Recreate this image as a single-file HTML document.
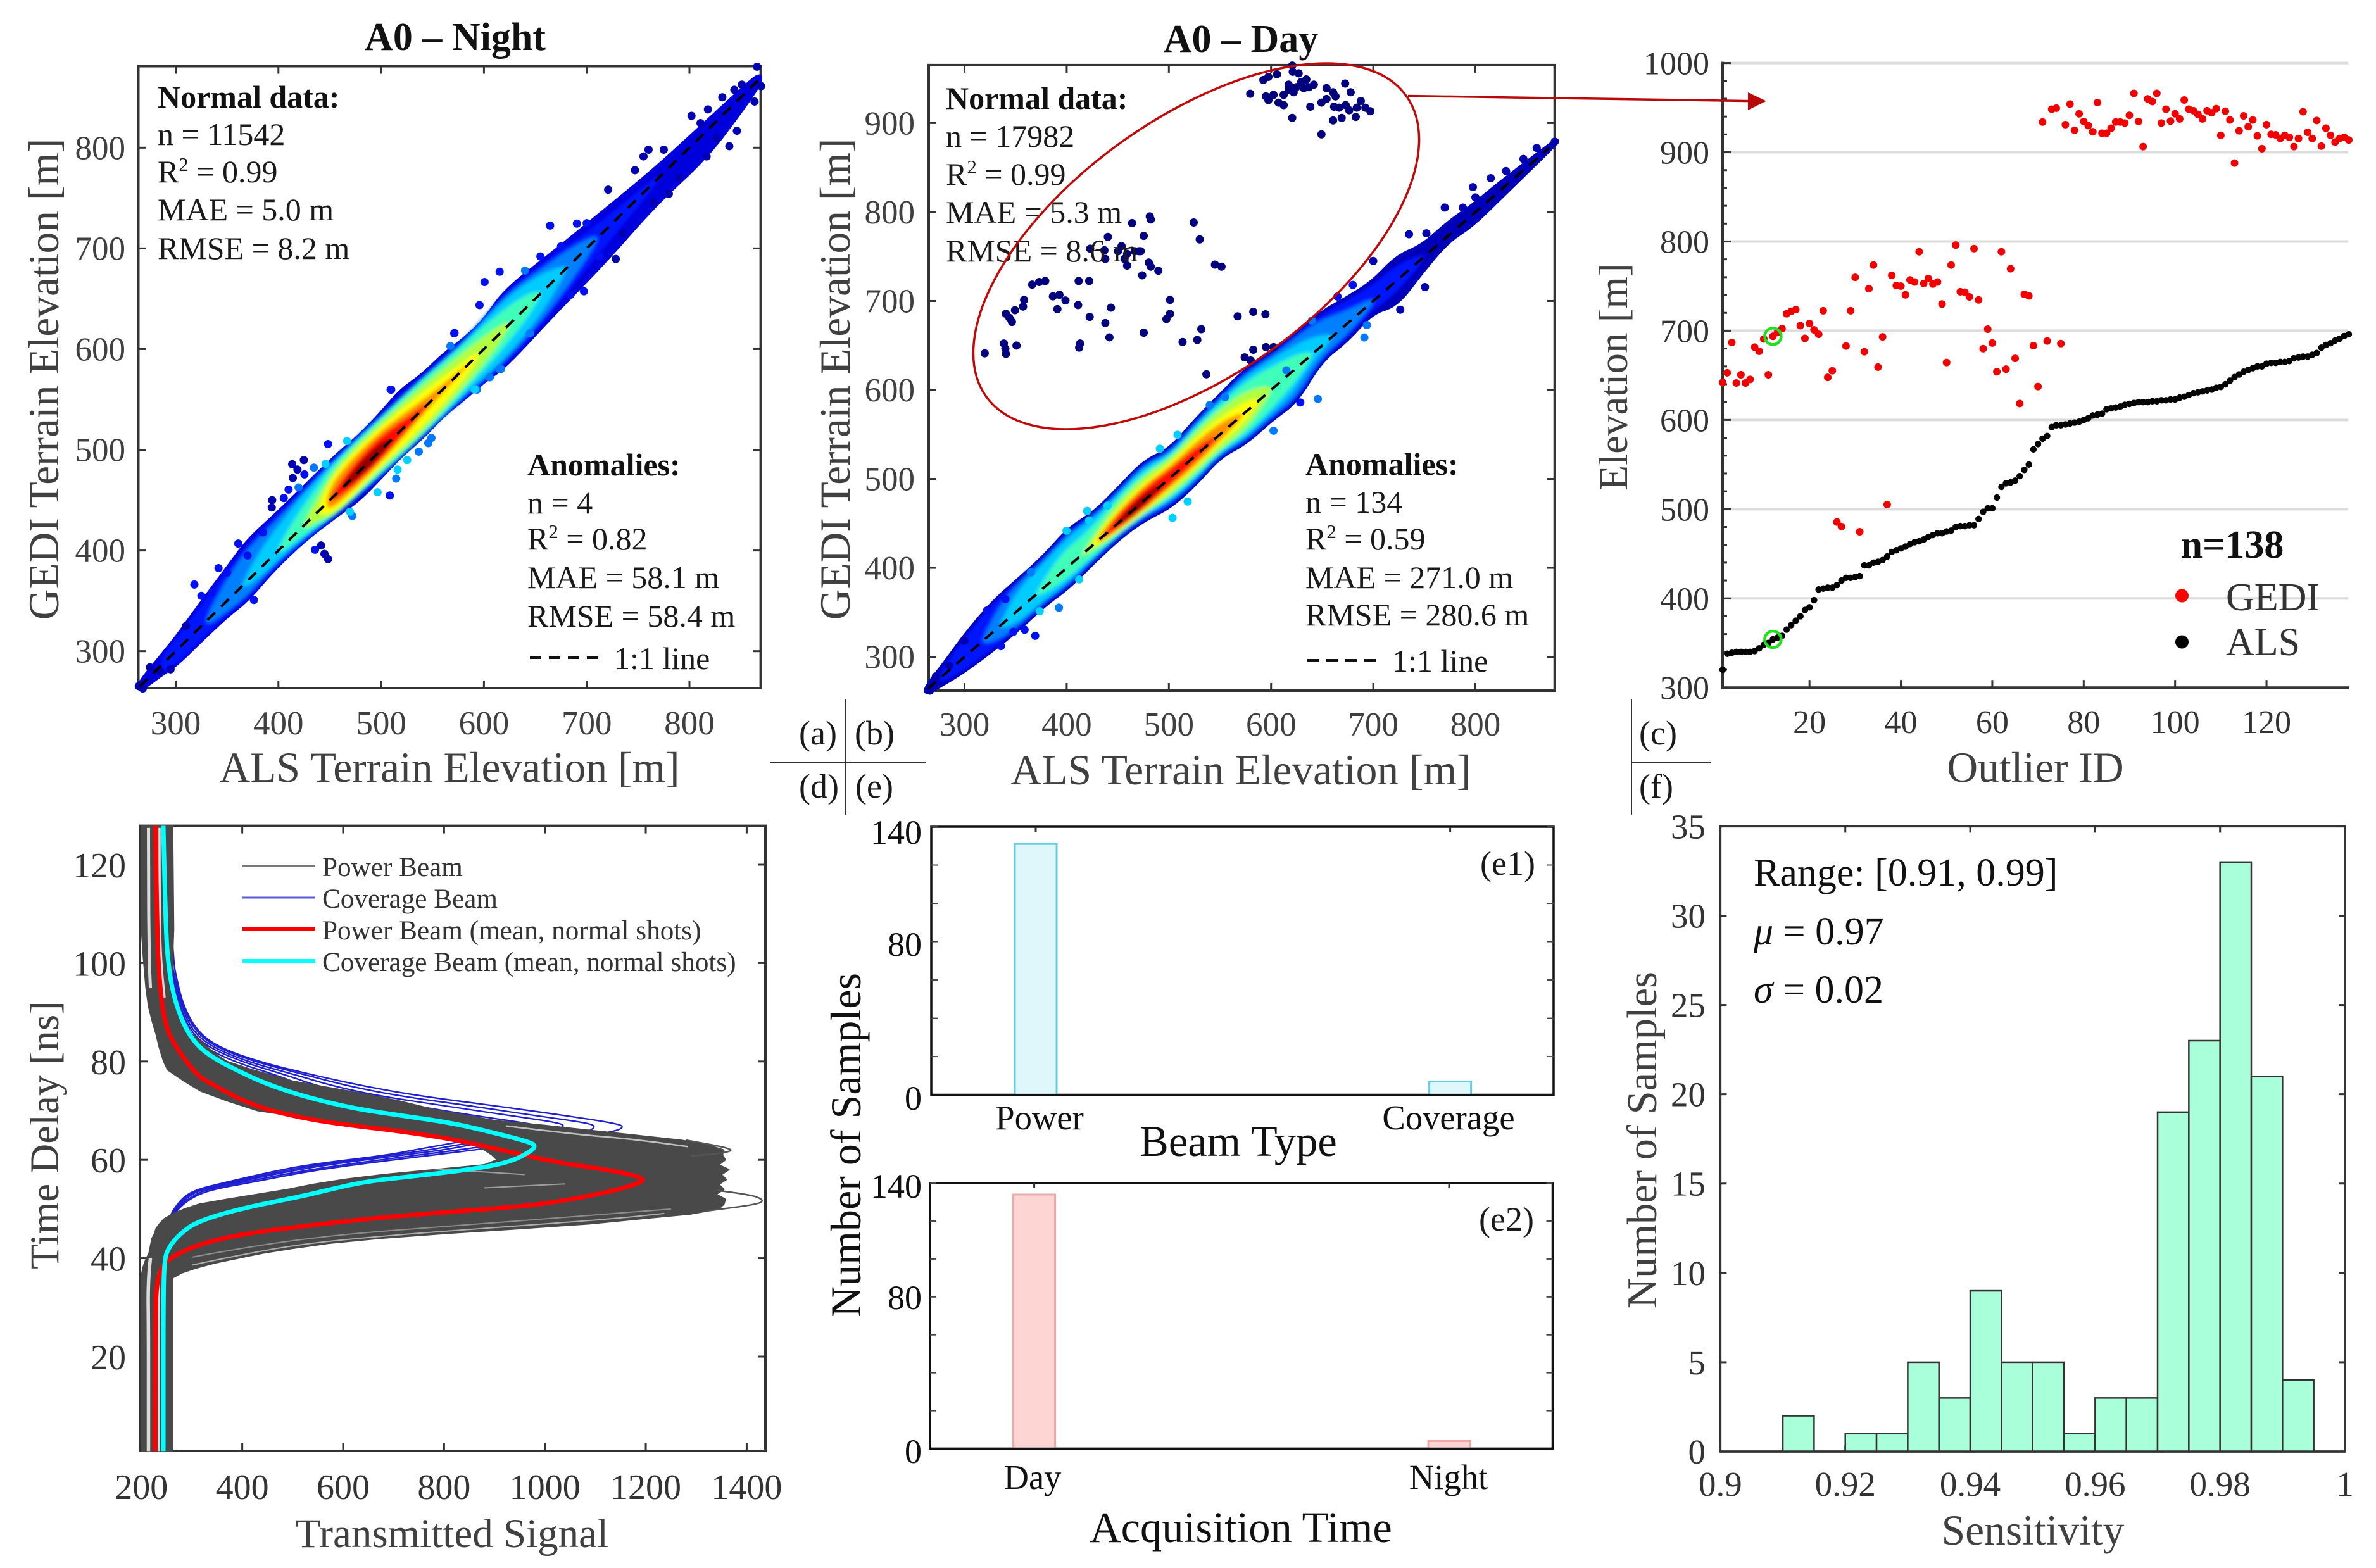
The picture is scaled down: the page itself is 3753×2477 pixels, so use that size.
<!DOCTYPE html>
<html lang="en">
<head>
<meta charset="utf-8">
<title>GEDI vs ALS terrain elevation anomalies</title>
<style>
html,body{margin:0;padding:0;background:#fff}
svg{display:block}
text{font-family:"Liberation Serif","Times New Roman",serif}
.note{font-size:50px;fill:#1a1a1a}
.noteb{font-size:50px;font-weight:bold;fill:#111}
.title{font-size:62px;font-weight:bold;fill:#111;text-anchor:middle}
.lab{font-size:67.5px;fill:#404040;text-anchor:middle}
.labk{font-size:68.5px;fill:#111;text-anchor:middle}
.tag{font-size:54px;fill:#1a1a1a}
.leg{font-size:43.2px;fill:#333}
</style>
</head>
<body>
<svg id="fig" xmlns="http://www.w3.org/2000/svg" width="3753" height="2477" viewBox="0 0 3753 2477">
<defs><filter id="soft" x="-5%" y="-5%" width="110%" height="110%"><feGaussianBlur stdDeviation="3"/></filter></defs>
<rect width="3753" height="2477" fill="#fff"/>
<g id="marks"></g>

<text class="title" x="719" y="79">A0 – Night</text>
<text class="lab" x="710" y="1235">ALS Terrain Elevation [m]</text>
<text class="lab" transform="translate(92 599) rotate(-90)">GEDI Terrain Elevation [m]</text>
<g>
<text class="noteb" x="249" y="170">Normal data:</text>
<text class="note" x="249" y="229">n = 11542</text>
<text class="note" x="249" y="288">R<tspan dy="-18" font-size="31">2</tspan><tspan dy="18"> = 0.99</tspan></text>
<text class="note" x="249" y="348">MAE = 5.0 m</text>
<text class="note" x="249" y="409">RMSE = 8.2 m</text>
</g>
<g>
<text class="noteb" x="833" y="751">Anomalies:</text>
<text class="note" x="833" y="811">n = 4</text>
<text class="note" x="833" y="868">R<tspan dy="-18" font-size="31">2</tspan><tspan dy="18"> = 0.82</tspan></text>
<text class="note" x="833" y="929">MAE = 58.1 m</text>
<text class="note" x="833" y="990">RMSE = 58.4 m</text>
<line x1="837" y1="1039" x2="945" y2="1039" stroke="#111" stroke-width="4" stroke-dasharray="18 12"/>
<text class="note" x="970" y="1057">1:1 line</text>
</g>

<text class="title" x="1960" y="82">A0 – Day</text>
<text class="lab" x="1960" y="1239">ALS Terrain Elevation [m]</text>
<text class="lab" transform="translate(1342 599) rotate(-90)">GEDI Terrain Elevation [m]</text>
<g>
<text class="noteb" x="1494" y="172">Normal data:</text>
<text class="note" x="1494" y="232">n = 17982</text>
<text class="note" x="1494" y="292">R<tspan dy="-18" font-size="31">2</tspan><tspan dy="18"> = 0.99</tspan></text>
<text class="note" x="1494" y="352">MAE = 5.3 m</text>
<text class="note" x="1494" y="413">RMSE = 8.6 m</text>
</g>
<g>
<text class="noteb" x="2062" y="750">Anomalies:</text>
<text class="note" x="2062" y="810">n = 134</text>
<text class="note" x="2062" y="868">R<tspan dy="-18" font-size="31">2</tspan><tspan dy="18"> = 0.59</tspan></text>
<text class="note" x="2062" y="929">MAE = 271.0 m</text>
<text class="note" x="2062" y="988">RMSE = 280.6 m</text>
<line x1="2065" y1="1043" x2="2175" y2="1043" stroke="#111" stroke-width="4" stroke-dasharray="18 12"/>
<text class="note" x="2199" y="1061">1:1 line</text>
</g>

<ellipse cx="1889.5" cy="389" rx="408" ry="202.5" transform="rotate(-35.6 1889.5 389)" fill="none" stroke="#c00a0a" stroke-width="3.5"/>
<line x1="2224" y1="151.5" x2="2765" y2="159.6" stroke="#b80a0a" stroke-width="3.5"/>
<polygon points="2761,146 2790,159.6 2761,174" fill="#b80a0a"/>

<g>
<line x1="1336" y1="1104" x2="1336" y2="1287" stroke="#333" stroke-width="2"/>
<line x1="1216" y1="1205" x2="1463" y2="1205" stroke="#333" stroke-width="2"/>
<text class="tag" x="1262" y="1176">(a)</text>
<text class="tag" x="1350" y="1176">(b)</text>
<text class="tag" x="1262" y="1260">(d)</text>
<text class="tag" x="1351" y="1260">(e)</text>
</g>
<g>
<line x1="2577" y1="1104" x2="2577" y2="1287" stroke="#333" stroke-width="2"/>
<line x1="2577" y1="1205" x2="2702" y2="1205" stroke="#333" stroke-width="2"/>
<text class="tag" x="2589" y="1176">(c)</text>
<text class="tag" x="2589" y="1260">(f)</text>
</g>

<text class="lab" x="3215" y="1235">Outlier ID</text>
<text class="lab" transform="translate(2570 595) rotate(-90)" style="font-size:65px">Elevation [m]</text>
<g>
<text x="3526" y="881" font-size="62" font-weight="bold" fill="#111" text-anchor="middle">n=138</text>
<circle cx="3446.5" cy="941" r="10.5" fill="#ff0000"/>
<text x="3516" y="964" font-size="62" fill="#333">GEDI</text>
<circle cx="3446.5" cy="1014" r="10.5" fill="#000"/>
<text x="3516" y="1035" font-size="62" fill="#333">ALS</text>
</g>

<text class="lab" x="714" y="2444" style="font-size:65px">Transmitted Signal</text>
<text class="lab" transform="translate(92 1793) rotate(-90)" style="font-size:65px">Time Delay [ns]</text>

<text class="labk" x="1956" y="1826">Beam Type</text>
<text class="labk" x="1960" y="2436">Acquisition Time</text>
<text class="labk" transform="translate(1359 1809) rotate(-90)" style="font-size:68px">Number of Samples</text>
<text class="tag" x="2338" y="1382">(e1)</text>
<text class="tag" x="2336" y="1944">(e2)</text>

<text class="lab" x="3211" y="2440">Sensitivity</text>
<text class="lab" transform="translate(2616 1801) rotate(-90)" style="font-size:66.5px">Number of Samples</text>
<g font-size="62" fill="#111">
<text x="2770" y="1399">Range: [0.91, 0.99]</text>
<text x="2770" y="1492"><tspan font-style="italic">μ</tspan> = 0.97</text>
<text x="2770" y="1584"><tspan font-style="italic">σ</tspan> = 0.02</text>
</g>
<g id="legendD">
<line x1="383" y1="1368" x2="498" y2="1368" stroke="#777" stroke-width="3"/>
<text class="leg" x="509" y="1384">Power Beam</text>
<line x1="383" y1="1418" x2="498" y2="1418" stroke="#5a5ad8" stroke-width="3"/>
<text class="leg" x="509" y="1434">Coverage Beam</text>
<line x1="383" y1="1468" x2="498" y2="1468" stroke="#f00" stroke-width="6"/>
<text class="leg" x="509" y="1484">Power Beam (mean, normal shots)</text>
<line x1="383" y1="1518" x2="498" y2="1518" stroke="#0ff" stroke-width="6"/>
<text class="leg" x="509" y="1534">Coverage Beam (mean, normal shots)</text>
</g>
</svg>

<script>
/* ---------- Panel (a) night scatter: tick values ---------- */
const nightXTicks = [300,400,500,600,700,800];
const nightYTicks = [300,400,500,600,700,800];
/* density bands, one row per density level: ALS station, GEDI-ALS lower and upper residual */
const nightBandX = [
 [264,285,301,322,350,370,396,426,457,478,498,519,540,560,581,601,620,669,718,767,816,850,869],
 [285,301,322,350,370,396,426,457,498,540,581,620,669,700,735,770],
 [330,350,370,396,426,457,498,540,581,620,655,685,710],
 [365,385,405,426,457,498,540,581,620,655,680],
 [400,420,435,457,498,540,581,610,640,655],
 [425,440,457,498,540,581,610,625],
 [440,457,498,540,581,595],
 [447,457,498,540,565,585],
 [450,470,498,525,545],
 [462,478,498,510]];
const nightBandLow = [
 [-4,-9,-14,-14,-15,-19,-14,-15,-22,-28,-27,-25,-28,-26,-30,-32,-38,-33,-31,-23,-26,-14,-5],
 [-8,-13,-13,-14,-17,-13,-15,-21,-26,-27,-29,-36,-30,-20,-12,-4],
 [-5,-11,-15,-12,-14,-20,-25,-27,-28,-34,-28,-18,-4],
 [-4,-9,-9,-13,-20,-24,-27,-26,-30,-22,-4],
 [-4,-8,-12,-22,-23,-27,-22,-20,-12,-3],
 [-4,-10,-20,-18,-23,-18,-12,-3],
 [-6,-18,-16,-18,-11,-3],
 [-6,-12,-13,-6,-3,-1],
 [-3,-9,-10,-6,-2],
 [-2,-6,-6,-2]];
const nightBandHigh = [
 [4,9,13,22,32,40,38,38,38,35,36,40,34,34,29,28,38,28,20,12,9,7,5],
 [8,12,20,30,37,36,36,37,35,33,28,36,26,16,9,4],
 [5,22,32,32,35,36,34,32,27,34,24,16,4],
 [4,20,26,32,35,33,31,26,30,20,4],
 [4,18,24,33,32,30,24,22,14,3],
 [4,16,28,28,24,17,10,3],
 [8,24,24,17,7,3],
 [6,18,20,9,4,1],
 [3,12,15,7,2],
 [2,8,8,2]];
/* individually visible fringe points */
const nightPointX = [264.1,268,865.8,869.7,851,843.7,863.4,802,810.8,838.8,846.2,826.5,755.3,760.2,747,720.9,664.4,690.5,600.6,615.3,595.7,571.1,509.7,360.9,341.7,318.2,376.1,816.7,765.1,779.9,728.3,697.3,684.1,644.8,615.3,593.2,448.3,424.7,413.4,418.5,414,425.3,434.5,445.8,466.8,509.2,571.4,567.4,616.6,605.7,591,548.9,545.8,536.6,525.3,514.6,508.4,496.5,516,471.9,469.5,448.3,444.8,441.5,435.6,393.5,393.9,405.2,409.9,419.6,275,285,295,310,325,335,350,370,385,640,655,675,700,712,735,775,790,818,832];
const nightPointY = [265.4,263,880.4,861.1,862.6,857.5,845.8,831.6,824.4,801.5,816.8,809.2,791.3,798,777.6,758.3,722.6,724.6,666.6,676.8,643.7,615.7,559.7,406.9,382.5,366.2,350.9,791.3,745.5,754.2,689.5,657.4,653.9,615.7,580,559.7,505.7,489.8,485.7,480.4,472,475.6,482.3,486,508.7,559.8,616,603,580.3,572,560,511.8,506.6,498.2,489.8,471.4,454.6,457.8,480.4,434.3,438.5,391.4,396.6,405,400.8,442.7,450,452.1,460.5,462.6,284,280,282,325,355,358,378,395,418,678,692,702,725,692,715,798,770,838,850];
const nightPointLevel = [0,0,0,0,0,0,0,0,0,0,0,0,0,0,0,0,1,1,1,1,1,1,1,1,1,1,1,0,0,0,0,1,1,2,2,2,1,0,0,0,0,1,2,3,3,1,1,2,2,2,3,2,2,2,3,2,1,3,3,2,3,0,0,0,1,0,0,1,1,2,0,0,0,0,1,1,1,1,1,2,1,1,1,1,0,0,0,0,0];

/* ---------- Panel (b) day scatter ---------- */
const dayXTicks = [300,400,500,600,700,800];
const dayYTicks = [300,400,500,600,700,800,900];
const dayBandX = [
 [262,280,300,328,353,378,402,427,452,476,501,526,550,575,600,625,649,674,699,723,748,773,797,822,847,880],
 [275,300,328,353,378,402,427,452,476,501,526,550,575,600,625,649,674,699,723,750],
 [318,335,353,378,402,427,452,476,501,526,550,575,600,625,649,672,700],
 [335,353,378,402,427,452,476,501,526,550,575,600,620,640,660],
 [370,395,420,445,476,501,526,550,575,600,625,640],
 [415,445,476,501,526,550,575,600],
 [425,445,476,501,526,550,575,588],
 [430,447,476,501,526,550,572],
 [438,452,476,501,526,548],
 [450,465,480,495]];
const dayBandLow = [
 [-4,-10,-16,-20,-22,-20,-24,-20,-18,-22,-33,-32,-25,-35,-34,-38,-16,-19,-12,-28,-15,-6,-12,-9,-6,-2],
 [-6,-15,-19,-21,-19,-23,-19,-17,-21,-32,-31,-24,-34,-33,-37,-15,-17,-10,-14,-4],
 [-4,-15,-18,-17,-21,-17,-15,-19,-29,-29,-23,-32,-31,-34,-13,-13,-4],
 [-4,-14,-14,-18,-15,-14,-17,-26,-27,-21,-29,-27,-26,-10,-3],
 [-3,-12,-12,-13,-15,-23,-23,-19,-25,-22,-14,-3],
 [-3,-11,-14,-20,-19,-16,-20,-5],
 [-3,-8,-12,-14,-14,-11,-10,-3],
 [-3,-7,-10,-11,-11,-7,-3],
 [-3,-7,-9,-8,-6,-2],
 [-2,-6,-5,-1]];
const dayBandHigh = [
 [4,12,24,34,34,35,42,35,39,44,32,40,44,48,41,39,38,29,22,27,14,15,10,9,6,2],
 [6,22,33,33,34,41,34,38,43,31,39,43,47,40,38,36,27,19,18,4],
 [4,24,31,32,38,32,36,41,29,37,41,44,38,35,30,16,4],
 [4,24,28,34,29,34,38,27,35,38,40,34,28,20,3],
 [3,22,20,28,33,24,31,34,34,26,15,3],
 [3,22,28,21,27,28,24,6],
 [3,15,21,16,20,19,12,3],
 [3,12,17,13,15,13,3],
 [3,10,13,10,9,2],
 [2,7,6,1]];
const dayPointX = [392.4,369.2,358.8,347.9,335.6,750.6,726.4,691.3,693.8,645.8,602.4,628.6,503.6,518.4,491.2,508.5,399.8,422,373.6,412.2,797.5,800,877.6,847,752,787.7,266,272,285,300,322,340,365,420,440,540,555,615,640,665,680,700,735,770,815,830,860];
const dayPointY = [355.3,323.6,330.5,328.2,312.1,715.6,690.2,659,672.9,589.9,554.2,585.9,456.2,474.6,534,549.6,441.8,453.3,351.3,387,828,816.4,879,859.6,776,804.9,262,278,290,318,352,365,395,464,470,583,592,622,678,705,718,745,775,805,838,846,872];
const dayPointLevel = [2,1,1,1,1,0,0,2,2,2,2,1,3,3,3,3,3,3,3,3,0,0,0,0,0,0,0,0,0,0,1,1,2,3,3,2,2,2,2,1,1,0,0,0,0,0,0];
/* anomalous shots inside the ellipse */
const anomalyX = [579.6,592.5,597.4,605.8,620.7,621.2,627,634.5,629.5,624.6,617.2,612.3,607.3,597.4,595,602.4,612.3,620.7,638.4,649.3,654.3,660.7,663.1,649.3,654.3,672.5,677.9,687.8,683.9,692.3,697.2,673,661.7,666.6,676.5,669.1,660.7,682.9,641.9,637,632,622.1,617.2,319.8,338.5,340,340.5,350.9,340.5,344,346.4,349.4,357.3,358.3,366.2,373.1,379,386.5,392.9,390.9,398.8,411.2,411.7,422,422.5,413.1,412.2,437.8,443.3,441.8,423,436.9,440.3,437.8,453.7,450.2,459.1,456.6,459.1,464,475.4,481.3,482.3,470.5,466.5,472.4,473.9,480.3,482.3,489.7,501.1,501.1,497.6,475.4,513.4,527.8,531.7,536.7,567.3,582.6,594.5,524.3,530.2,545.1,551.5,574.2,582.6,595,602.4,580.1];
const anomalyY = [932.9,948.4,951.9,954.8,964.6,957.6,955.9,949,946.1,940.3,937.5,931.7,923,925.9,930,931.7,920.2,905.8,918.4,887.3,939.2,934.6,930,923,927.1,944.4,934.6,924.8,917.3,917.3,913.3,920.2,918.4,917.3,914.4,905.8,902.9,906.9,943.2,940.3,939.2,934.6,943.2,641.2,652.2,646.4,640.6,649.9,685.6,681,676.4,689.6,693.7,701.2,718.4,721.3,722.5,705.2,706.9,690.8,700.6,695.4,722.5,722.5,682.1,652.2,647.6,675.2,692.5,659.1,758.8,757,772,747.3,761.7,755.9,753,747.3,739.8,787.6,773.2,795.1,791.6,755.9,755.9,755.9,728.8,743.2,738.6,734,701.2,685.6,679.8,664.3,653.9,656.2,668.3,617.6,682.7,687.9,685,788.2,769.2,740.9,738.6,636.6,645.2,648.1,648.1,633.1];

/* ---------- Panel (c) outliers ---------- */
const outlierXTicks = [20,40,60,80,100,120];
const outlierYTicks = [300,400,500,600,700,800,900,1000];
const gediElevation = [642,652.9,686.8,641.4,650.6,641.4,645.4,681.6,677,690.8,650.6,693.7,698,702.3,719,721.8,723.6,705.7,691.4,708,701,696,722.4,647.7,655.2,485.6,480.5,682.8,722.4,759.8,474.7,676.4,747,773.6,659.2,693.1,505.2,762,750.6,750,740.2,756.9,754.6,788.5,752.9,758.6,752.3,754.6,729.9,664.4,773.6,796,743.7,743.1,737.9,792,734.5,679.9,701.7,686.2,654,788.5,656.9,769.5,669,618.4,740.8,739.1,683.3,637.4,933.9,688.5,948.3,949.4,685.6,931,954,924.7,943.1,934.5,929.9,923,955.7,921.3,921.3,927,933.9,933.9,932.8,941.4,966,934.5,906.3,959.8,956.9,966,932.8,948.3,935,943.1,937.4,958.6,948.3,946.6,942.5,937.4,946.6,944.3,948.9,919,946,936.2,887.9,924.1,940.8,928.7,936.2,918.4,904,931,920.1,919.5,915.5,919,916.7,906.3,915.5,945.4,922.4,915.5,935.6,906.9,927,919,911.5,915.5,916.7,913.8];
const alsElevation = [320,338,339,340,340,340,340,341,344,348,350,354,356,358,365,370,375,380,387,390,398,410,411,412,412,415,420,423,423,424,425,437,437,440,441,443,447,452,454,456,458,461,463,464,466,469,471,473,473,475,476,480,481,481,482,482,489,497,501,501,513,525,529,530,532,537,544,550,567,573,579,582,592,594,594,595,596,597,598,600,602,605,606,607,612,613,614,615,617,618,619,620,620,620,621,621,622,622,623,623,625,626,628,630,631,632,633,634,636,637,640,644,648,651,654,656,658,660,660,663,664,664,665,665,666,669,670,671,671,673,675,681,684,686,689,691,694,696];
const highlightedId = 12;

/* ---------- Panel (d) waveforms ---------- */
const signalTicks = [200,400,600,800,1000,1200,1400];
const delayTicks = [20,40,60,80,100,120];
const envelopeDelay = [127.9,107,101,95,92,90.8,88,85.6,83,81.3,80,78.3,76,74,72,70,68,67,66,65,64,63,62,61,60,59,58,57,56,55,54,53,52,51,50,49,48,47,46,45,44,43,42,41,40,39,38,37,36,35,0.8];
const powerEnvelopeLow = [200,200,204,209,213,215,222,229,235,240,244,252,285,317,370,430,562,620,712,770,822,860,880,895,905,880,780,680,600,540,490,430,370,315,285,262,245,236,229,226,221,219,217,215,210,206,203,201,200,200,200];
const powerEnvelopeHigh = [262,264,262,262,268,272,285,300,330,350,370,420,500,610,710,790,900,1000,1090,1180,1270,1325,1355,1352,1358,1345,1365,1350,1360,1345,1355,1340,1358,1355,1345,1290,1190,1090,950,800,670,570,500,440,392,345,309,280,262,262,262];
/* isolated thin beams that leave the envelope */
const spikeLowDelay = [53.8,53,51.9,51,49.6];
const spikeLowSignal = [1340,1405,1434,1425,1320];
const spikeHighDelay = [64,63,62.3,61.8,61.2,60.8];
const spikeHighSignal = [1280,1335,1365,1371,1340,1290];
/* light gaps between bundles of beams */
const gapUpperLeftDelay = [127.5,115,105,100,97,95];
const gapUpperLeftSignal = [214,214,215,216,217,218];
const gapUpperMidDelay = [127.5,110,100,93];
const gapUpperMidSignal = [236,236,239,246];
const gapLowerLeftDelay = [40,36,25,12,0.8];
const gapLowerLeftSignal = [218,213,214,214,214];
const gapLowerMidDelay = [37,30,15,0.8];
const gapLowerMidSignal = [234,235,235,235];
const gapBottomDelay = [38.6,40.6,42.9,44.6,46.4,48,49.1];
const gapBottomSignal = [300,392,518,685,923,1133,1237];
const gapBottom2Delay = [40.2,42.5,44.9,46.8,48.4,50];
const gapBottom2Signal = [300,420,600,850,1050,1250];
const gapTopDelay = [66.9,65.3,64.2,62.7];
const gapTopSignal = [923,1049,1174,1283];
const gapMidDelay = [58.2,57.6,57];
const gapMidSignal = [780,870,960];
const gapMid2Delay = [54.3,54.7,55.1];
const gapMid2Signal = [880,960,1040];
const coverageBeamDelay = [127.9,101,96.3,91.2,86.4,83,79.9,77.3,75,73,71,69,67.5,66.7,65.5,64,62,61,59,57.5,55.5,54,52.5,50,47.6,40,0.8];
const coverageBeamA = [250,262,271,284,309,350,434,538,640,750,900,1040,1135,1160,1130,1000,860,780,622,522,422,342,302,272,257,250,250];
const coverageBeamB = [250,258,268,282,305,345,425,525,610,710,850,980,1085,1102,1080,960,830,750,600,505,405,330,298,270,256,250,250];
const coverageBeamC = [250,257,266,280,300,338,412,505,580,670,800,930,1030,1040,1000,900,800,720,570,485,390,320,292,268,255,250,250];
const coverageBeamD = [250,256,264,277,296,330,400,485,550,630,740,860,960,1000,980,880,770,700,550,470,380,315,288,266,254,250,250];
const coverageBeamE = [250,255,262,275,292,322,385,465,525,600,710,820,920,960,940,850,740,690,530,455,370,310,284,264,253,250,250];
const powerMeanDelay = [127.9,107,96.3,87.7,83,77.4,75.9,70.9,68.4,66.9,65.7,64.1,61.8,59.5,58,56.8,56,55.2,53.5,51,50.1,48.4,46.5,44.8,42.7,39.7,37.5,34.5,28,0.8];
const powerMeanSignal = [228,231,235.6,246,267,309,330,422,522,622,722,822,922,1022,1122,1180,1197,1185,1130,1000,900,685,518,393,309,250,238,230,228,227];
const coverageMeanDelay = [127.9,107,98.5,92,85.6,81.3,77,75,72.9,70.4,68.9,67.4,64.9,63.6,62.8,61.6,59.5,58,56.5,55.5,54,52.6,50,47.4,44.8,42.3,40,33,0.8];
const coverageMeanSignal = [243.6,248,254.5,267,292,330,413,460,522,622,722,822,922,970,982,970,930,852,722,640,575,518,393,309,275,255,246,243.6,243.6];

/* ---------- Panels (e1)(e2) ---------- */
const beamCategories = ['Power','Coverage'];
const beamCounts = [131,7];
const timeCategories = ['Day','Night'];
const timeCounts = [134,4];
const countMinorTicks = [0,20,40,60,80,100,120,140];
const countLabelTicks = [0,80,140];

/* ---------- Panel (f) histogram ---------- */
const binEdgeStart = [0.91,0.915,0.92,0.925,0.93,0.935,0.94,0.945,0.95,0.955,0.96,0.965,0.97,0.975,0.98,0.985,0.99];
const binCounts = [2,0,1,1,5,3,9,5,5,1,3,3,19,23,33,21,4];
const binWidth = 0.005;
const sensitivityTicks = [0.9,0.92,0.94,0.96,0.98,1];
const sensitivityLabels = ['0.9','0.92','0.94','0.96','0.98','1'];
const histYTicks = [0,5,10,15,20,25,30,35];

/* ---------- drawing ---------- */
const NS = 'http://www.w3.org/2000/svg';
const root = document.getElementById('marks');
const JET = ['#0000dc','#0018ff','#0080ff','#00ccff','#40ffb8','#b0ff40','#ffff00','#ff9000','#ff1000','#900000'];
const POINT_JET = ['#0000b0','#0010f0','#0078ff','#00d0ff'];

function make(tag, attrs, name, parent, interact) {
  const e = document.createElementNS(NS, tag);
  for (const k in attrs) e.setAttribute(k, attrs[k]);
  
  
  (parent || root).appendChild(e);
  return e;
}
function scale(d0, d1, r0, r1) { return v => r0 + (v - d0) * (r1 - r0) / (d1 - d0); }
function label(txt, x, y, size, color, anchor, name, parent) {
  const t = make('text', {x: x, y: y, 'font-size': size, fill: color, 'text-anchor': anchor}, name, parent);
  t.textContent = txt;
  return t;
}
function smoothClosed(p) {
  const n = p.length, mid = (a, b) => ((a[0]+b[0])/2).toFixed(1) + ' ' + ((a[1]+b[1])/2).toFixed(1);
  let d = 'M' + mid(p[n-1], p[0]);
  for (let i = 0; i < n; i++) d += 'Q' + p[i][0].toFixed(1) + ' ' + p[i][1].toFixed(1) + ' ' + mid(p[i], p[(i+1)%n]);
  return d + 'Z';
}
function smoothOpen(xs, ys, fx, fy) {
  const p = xs.map((v, i) => [fx(v), fy(ys[i])]);
  const mid = (a, b) => ((a[0]+b[0])/2).toFixed(1) + ' ' + ((a[1]+b[1])/2).toFixed(1);
  let d = 'M' + p[0][0].toFixed(1) + ' ' + p[0][1].toFixed(1);
  for (let i = 1; i < p.length - 1; i++) d += 'Q' + p[i][0].toFixed(1) + ' ' + p[i][1].toFixed(1) + ' ' + mid(p[i], p[i+1]);
  return d + 'L' + p[p.length-1][0].toFixed(1) + ' ' + p[p.length-1][1].toFixed(1);
}
function frame(name, L, T, R, B, sw, color) {
  make('rect', {x: L, y: T, width: R-L, height: B-T, fill: '#fff', stroke: color, 'stroke-width': sw}, name + '-frame');
}
function xTickMarks(name, vals, fx, T, B, len, sw, color, both) {
  vals.forEach(v => {
    const x = fx(v);
    make('line', {x1: x, x2: x, y1: B, y2: B-len, stroke: color, 'stroke-width': sw}, name + '-x-tick');
    if (both) make('line', {x1: x, x2: x, y1: T, y2: T+len, stroke: color, 'stroke-width': sw}, name + '-x-tick-top');
  });
}
function yTickMarks(name, vals, fy, L, R, len, sw, color, both) {
  vals.forEach(v => {
    const y = fy(v);
    make('line', {x1: L, x2: L+len, y1: y, y2: y, stroke: color, 'stroke-width': sw}, name + '-y-tick');
    if (both) make('line', {x1: R, x2: R-len, y1: y, y2: y, stroke: color, 'stroke-width': sw}, name + '-y-tick-right');
  });
}

function densityPanel(name, opt) {
  const {sx, sy, L, T, R, B, xT, yT, bX, bL, bH, pX, pY, pL, xBase, yRight, oneTo, base} = opt;
  frame(name, L, T, R, B, 4, '#333');
  xTickMarks(name, xT, sx, T, B, 12, 3, '#333', true);
  yTickMarks(name, yT, sy, L, R, 12, 3, '#333', true);
  xT.forEach(v => label(String(v), sx(v), xBase, 53, '#404040', 'middle', name + '-x-tick-label'));
  yT.forEach(v => label(String(v), yRight, sy(v) + 18, 53, '#404040', 'end', name + '-y-tick-label'));
  const soft = make('g', {filter: 'url(#soft)'}, name + '-density-core');
  bX.forEach((xs, lv) => {
    const pts = [];
    xs.forEach((x, i) => pts.push([sx(x), sy(x + bH[lv][i])]));
    for (let i = xs.length - 1; i >= 0; i--) pts.push([sx(xs[i]), sy(xs[i] + bL[lv][i])]);
    if (lv === 0) make('path', {d: smoothClosed(pts), fill: base, stroke: base, 'stroke-width': 6, 'stroke-linejoin': 'round'}, name + '-density-band', root);
    else make('path', {d: smoothClosed(pts), fill: JET[lv]}, name + '-density-band', soft);
  });
  root.appendChild(soft);
  pX.forEach((x, i) => make('circle', {cx: sx(x), cy: sy(pY[i]), r: 6.5, fill: POINT_JET[pL[i]]}, name + '-shot-point'));
  make('line', {x1: sx(oneTo[0]), y1: sy(oneTo[0]), x2: sx(oneTo[1]), y2: sy(oneTo[1]), stroke: '#000', 'stroke-width': 4, 'stroke-dasharray': '17 13'}, name + '-one-to-one-line');
}

/* Panel a */
densityPanel('panel-a', {sx: scale(300,800,277.5,1089), sy: scale(300,800,1028.7,233.3), L: 218.5, T: 104.5, R: 1201.6, B: 1087,
  xT: nightXTicks, yT: nightYTicks, bX: nightBandX, bL: nightBandLow, bH: nightBandHigh, pX: nightPointX, pY: nightPointY, pL: nightPointLevel,
  xBase: 1160, yRight: 198, oneTo: [265, 868], base: '#0000dc'});

/* Panel b */
const dayX = scale(300,800,1523.5,2330.5), dayY = scale(300,900,1037.6,194.4);
densityPanel('panel-b', {sx: dayX, sy: dayY, L: 1467, T: 102.9, R: 2455.7, B: 1091,
  xT: dayXTicks, yT: dayYTicks, bX: dayBandX, bL: dayBandLow, bH: dayBandHigh, pX: dayPointX, pY: dayPointY, pL: dayPointLevel,
  xBase: 1162, yRight: 1445, oneTo: [264, 872], base: '#0000b8'});
anomalyX.forEach((x, i) => make('circle', {cx: dayX(x), cy: dayY(anomalyY[i]), r: 6.5, fill: '#00007f'}, 'panel-b-anomaly-point'));

/* Panel c */
(function () {
  const name = 'panel-c', sx = scale(1,138,2721,3710), sy = scale(300,1000,1086.2,99.6), L = 2721, R = 3709, B = 1086.2;
  outlierYTicks.slice(1).forEach(v => make('line', {x1: L, x2: R, y1: sy(v), y2: sy(v), stroke: '#dcdcdc', 'stroke-width': 4}, name + '-gridline'));
  make('line', {x1: L, x2: L, y1: 97.6, y2: B+2, stroke: '#333', 'stroke-width': 4}, name + '-y-axis');
  make('line', {x1: L-2, x2: R+2, y1: B, y2: B, stroke: '#333', 'stroke-width': 4}, name + '-x-axis');
  for (let v = 300; v <= 1000; v += 20) {
    const major = (v % 100 === 0);
    make('line', {x1: L, x2: L + (major ? 13 : 7), y1: sy(v), y2: sy(v), stroke: '#333', 'stroke-width': 3}, name + '-y-tick');
  }
  outlierYTicks.forEach(v => label(String(v), 2700, sy(v) + 18, 52, '#333', 'end', name + '-y-tick-label'));
  xTickMarks(name, outlierXTicks, sx, 0, B, 12, 3, '#333', false);
  outlierXTicks.forEach(v => label(String(v), sx(v), 1158, 52, '#333', 'middle', name + '-x-tick-label'));
  gediElevation.forEach((v, i) => make('circle', {cx: sx(i+1), cy: sy(v), r: 6, fill: '#f00000'}, name + '-gedi-point'));
  alsElevation.forEach((v, i) => make('circle', {cx: sx(i+1), cy: sy(v), r: 5.2, fill: '#000'}, name + '-als-point'));
  make('circle', {cx: sx(highlightedId), cy: sy(gediElevation[highlightedId-1]), r: 13, fill: 'none', stroke: '#20e020', 'stroke-width': 4.5}, name + '-highlight-gedi');
  make('circle', {cx: sx(highlightedId), cy: sy(alsElevation[highlightedId-1]), r: 13, fill: 'none', stroke: '#20e020', 'stroke-width': 4.5}, name + '-highlight-als');
})();

/* Panel d */
(function () {
  const name = 'panel-d', sx = scale(200,1400,223.3,1179.4), sy = scale(20,120,2143,1366), L = 221, R = 1209, T = 1304.6, B = 2292;
  frame(name, L, T, R, B, 4, '#333');
  xTickMarks(name, signalTicks, sx, T, B, 12, 3, '#333', true);
  yTickMarks(name, delayTicks, sy, L, R, 12, 3, '#333', true);
  signalTicks.forEach(v => label(String(v), sx(v), 2368, 56, '#333', 'middle', name + '-x-tick-label'));
  delayTicks.forEach(v => label(String(v), 199, sy(v) + 20, 56, '#333', 'end', name + '-y-tick-label'));
  [coverageBeamA, coverageBeamB, coverageBeamC, coverageBeamD, coverageBeamE].forEach(s => {
    make('path', {d: smoothOpen(s, coverageBeamDelay, sx, sy), fill: 'none', stroke: '#1f1fd0', 'stroke-width': 2.4}, name + '-coverage-beam');
  });
  const upper = envelopeDelay.map((d, i) => [sx(powerEnvelopeHigh[i]), sy(d)]);
  const lower = envelopeDelay.map((d, i) => [sx(powerEnvelopeLow[i]), sy(d)]).reverse();
  const poly = upper.concat(lower).map(p => p[0].toFixed(1) + ',' + p[1].toFixed(1)).join(' ');
  make('polygon', {points: poly, fill: '#494949', stroke: '#494949', 'stroke-width': 2, 'stroke-linejoin': 'round'}, name + '-power-beams');
  make('path', {d: smoothOpen(spikeLowSignal, spikeLowDelay, sx, sy), fill: 'none', stroke: '#555', 'stroke-width': 2.5}, name + '-power-beam-spike-low');
  make('path', {d: smoothOpen(spikeHighSignal, spikeHighDelay, sx, sy), fill: 'none', stroke: '#555', 'stroke-width': 2.5}, name + '-power-beam-spike-high');
  [[gapUpperLeftSignal, gapUpperLeftDelay, 5, 0.85], [gapUpperMidSignal, gapUpperMidDelay, 3.5, 0.85], [gapLowerLeftSignal, gapLowerLeftDelay, 5.5, 0.85], [gapLowerMidSignal, gapLowerMidDelay, 3.5, 0.85],
   [gapBottomSignal, gapBottomDelay, 2, 0.6], [gapBottom2Signal, gapBottom2Delay, 2, 0.4], [gapTopSignal, gapTopDelay, 2.5, 0.7], [gapMidSignal, gapMidDelay, 2, 0.5], [gapMid2Signal, gapMid2Delay, 2, 0.5]].forEach(g => {
    make('path', {d: smoothOpen(g[0], g[1], sx, sy), fill: 'none', stroke: '#f4f4f4', 'stroke-width': g[2], 'stroke-opacity': g[3]}, name + '-beam-gap');
  });
  make('path', {d: smoothOpen(powerMeanSignal, powerMeanDelay, sx, sy), fill: 'none', stroke: '#ff0000', 'stroke-width': 7}, name + '-power-mean');
  make('path', {d: smoothOpen(coverageMeanSignal, coverageMeanDelay, sx, sy), fill: 'none', stroke: '#00ffff', 'stroke-width': 7}, name + '-coverage-mean');
})();

/* Panels e1/e2 */
function countPanel(name, opt) {
  const {L, T, R, B, cats, counts, cx0, cx1, fill, stroke, catBase, labelCx, labelsBase} = opt;
  const sx = scale(1, 2, cx0, cx1), sy = scale(0, 140, B, T);
  frame(name, L, T, R, B, 3.5, '#111');
  xTickMarks(name, [1, 2], sx, T, B, 8, 3, '#333', true);
  yTickMarks(name, countMinorTicks, sy, L, R, 10, 2, '#444', true);
  countLabelTicks.forEach((v, i) => label(String(v), 1456, labelsBase[i], 54, '#111', 'end', name + '-y-tick-label'));
  counts.forEach((c, i) => {
    const x = sx(i + 1), w = 66;
    make('rect', {x: x - w/2, y: sy(c), width: w, height: B - sy(c), fill: fill, stroke: stroke, 'stroke-width': 3}, name + '-bar-' + cats[i].toLowerCase());
    label(cats[i], labelCx[i], catBase, 54.6, '#111', 'middle', name + '-category-label');
  });
  make('line', {x1: L, x2: R, y1: B, y2: B, stroke: '#111', 'stroke-width': 3.5}, name + '-baseline');
}
countPanel('panel-e1', {L: 1471, T: 1306, R: 2454, B: 1729.6, cats: beamCategories, counts: beamCounts, cx0: 1636, cx1: 2290.6, fill: '#dff6fb', stroke: '#63cde0', catBase: 1784, labelCx: [1642, 2288], labelsBase: [1753, 1510, 1333]});
countPanel('panel-e2', {L: 1469, T: 1869, R: 2452.5, B: 2288.5, cats: timeCategories, counts: timeCounts, cx0: 1633.6, cx1: 2289, fill: '#fdd5d3', stroke: '#eea7a5', catBase: 2352, labelCx: [1631, 2288], labelsBase: [2311, 2068, 1892]});

/* Panel f */
(function () {
  const name = 'panel-f', sx = scale(0.9,1,2717.4,3704), sy = scale(0,35,2293,1305.4), L = 2717.4, R = 3704, T = 1305.4, B = 2293;
  frame(name, L, T, R, B, 3.5, '#333');
  xTickMarks(name, sensitivityTicks, sx, T, B, 10, 3, '#333', true);
  yTickMarks(name, histYTicks, sy, L, R, 10, 3, '#333', true);
  sensitivityTicks.forEach((v, i) => label(sensitivityLabels[i], sx(v), 2363, 55, '#333', 'middle', name + '-x-tick-label'));
  histYTicks.forEach(v => label(String(v), 2694, sy(v) + 19, 55, '#333', 'end', name + '-y-tick-label'));
  binCounts.forEach((c, i) => {
    if (c === 0) return;
    make('rect', {x: sx(binEdgeStart[i]), y: sy(c), width: sx(binEdgeStart[i] + binWidth) - sx(binEdgeStart[i]), height: B - sy(c), fill: '#a9ffd9', stroke: '#333', 'stroke-width': 2.5}, name + '-bin-bar');
  });
  make('line', {x1: L, x2: R, y1: B, y2: B, stroke: '#333', 'stroke-width': 3.5}, name + '-baseline');
})();
</script>
</body>
</html>
